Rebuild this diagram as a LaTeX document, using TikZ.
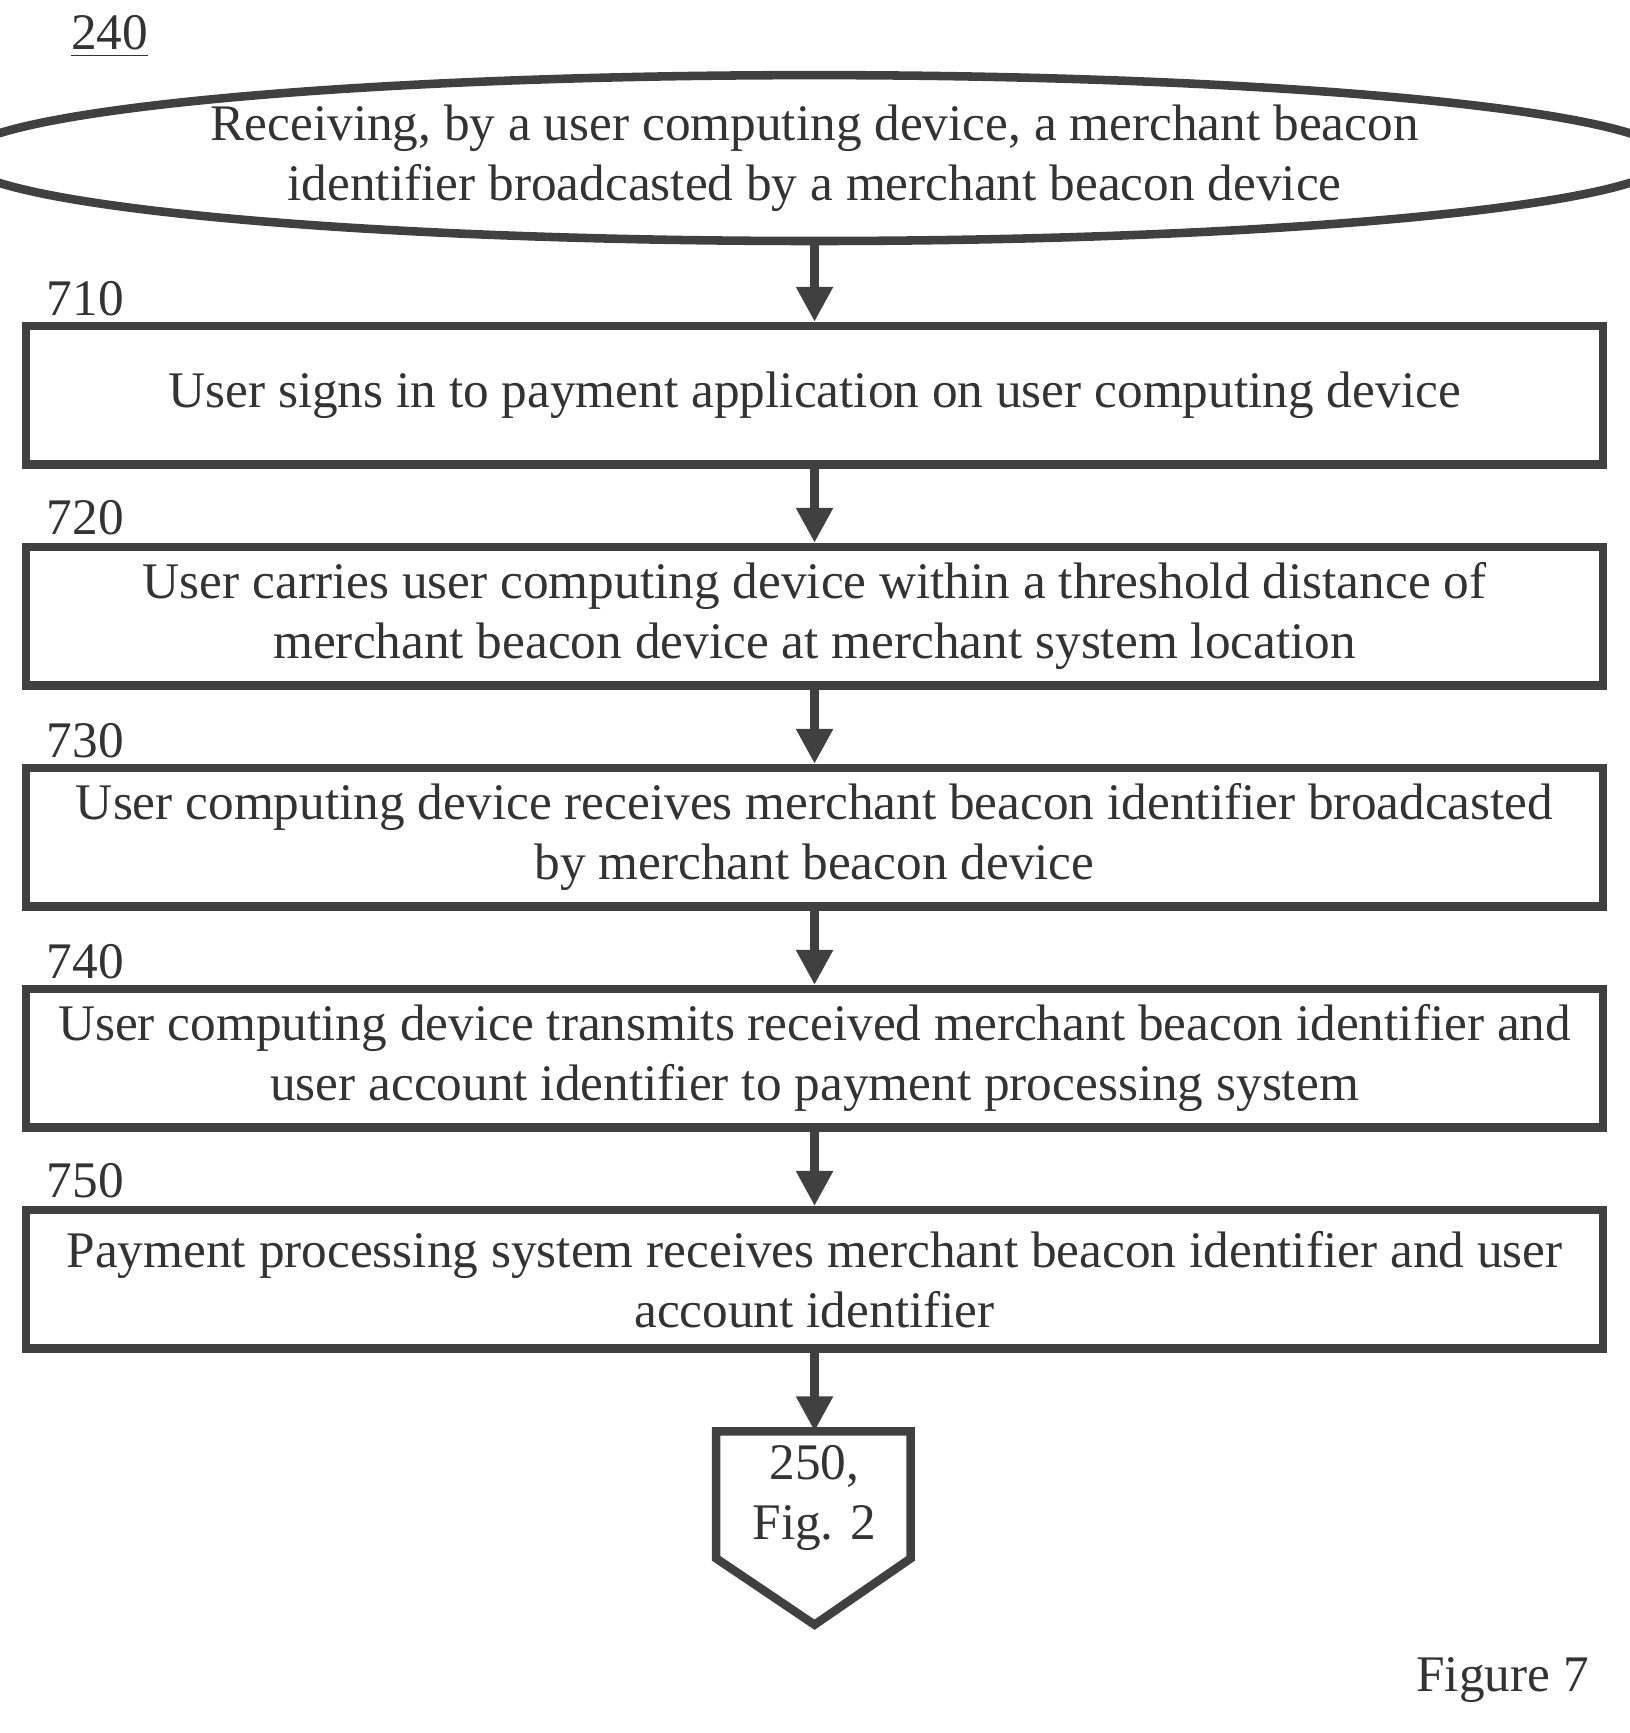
\documentclass[tikz,border=0pt]{standalone}
\usepackage{fontspec}
\setmainfont{Liberation Serif}
\usetikzlibrary{arrows.meta,shapes.geometric}
\begin{document}
\begin{tikzpicture}[x=0.01cm,y=-0.01cm,
  box/.style={draw=black!75,line width=2.2pt,minimum width=14.26cm,minimum height=1.25cm,inner sep=0pt,align=center,font=\fontsize{13.2pt}{15.5pt}\selectfont,text=black!80},
  lab/.style={font=\fontsize{13.2pt}{15pt}\selectfont,text=black!80,anchor=west},
  arr/.style={draw=black!75,line width=2.2pt,-{Triangle[length=9pt,width=9pt]}}]
\useasboundingbox (0,0) rectangle (1474,1568);
\node[lab,anchor=base west] (l240) at (52,45) {\underline{240}};
\node[draw=black!75,line width=2.2pt,ellipse,minimum width=14.3cm,minimum height=1.5cm,inner sep=0pt,align=center,font=\fontsize{13.2pt}{15.5pt}\selectfont,text=black!80] (e) at (737,143) {Receiving, by a user computing device, a merchant beacon\\identifier broadcasted by a merchant beacon device};
\node[box] (b1) at (737,357.5) {User signs in to payment application on user computing device};
\node[box] (b2) at (737,557.5) {User carries user computing device within a threshold distance of\\merchant beacon device at merchant system location};
\node[box] (b3) at (737,757.5) {User computing device receives merchant beacon identifier broadcasted\\by merchant beacon device};
\node[box] (b4) at (737,957.5) {User computing device transmits received merchant beacon identifier and\\user account identifier to payment processing system};
\node[box] (b5) at (737,1157.5) {Payment processing system receives merchant beacon identifier and user\\account identifier};
\node[lab] (l1) at (30,270) {710};
\node[lab] (l2) at (30,468) {720};
\node[lab] (l3) at (30,670) {730};
\node[lab] (l4) at (30,870) {740};
\node[lab] (l5) at (30,1068) {750};
\draw[draw=black!75,line width=2.2pt] (648,1295) coordinate (p) -- (824,1295) -- (824,1410) -- (737,1470) -- (648,1410) -- cycle;
\node[align=center,font=\fontsize{13.2pt}{15.5pt}\selectfont,text=black!80] (c) at (737,1355) {250,\\Fig. 2};
\coordinate (ctop) at (737,1295);
\draw[arr] (e.south) -- (b1.north);
\draw[arr] (b1.south) -- (b2.north);
\draw[arr] (b2.south) -- (b3.north);
\draw[arr] (b3.south) -- (b4.north);
\draw[arr] (b4.south) -- (b5.north);
\draw[arr] (b5.south) -- (ctop);
\node[lab,anchor=east] (fig) at (1450,1520) {Figure 7};
\end{tikzpicture}
\end{document}
